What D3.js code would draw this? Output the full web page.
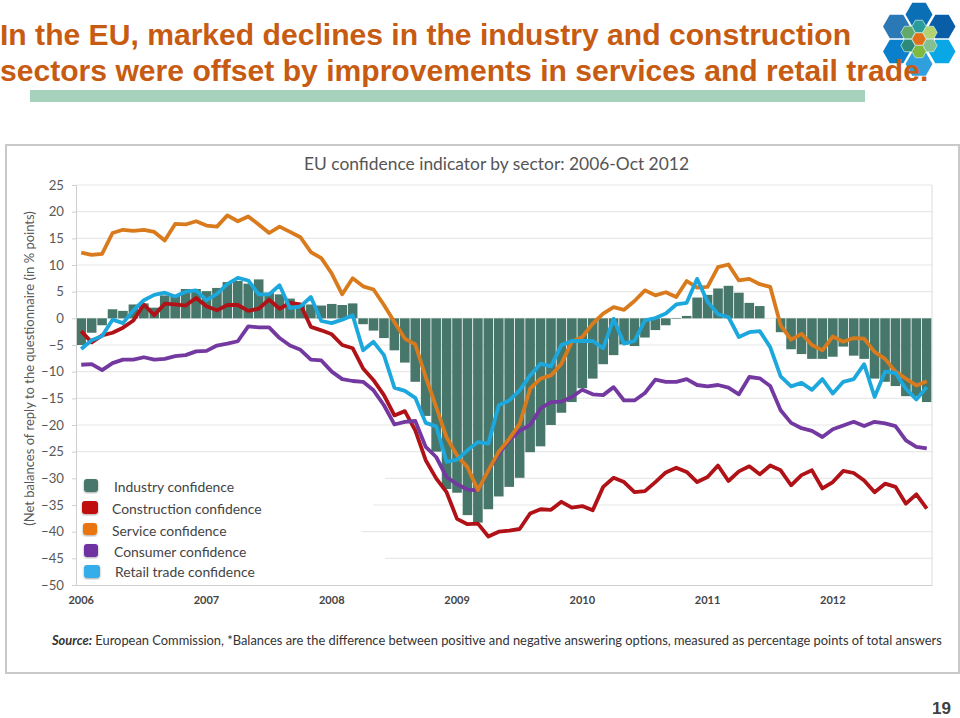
<!DOCTYPE html>
<html>
<head>
<meta charset="utf-8">
<script src="https://cdn.jsdelivr.net/npm/d3@7/dist/d3.min.js"></script>
<style>
  html, body { margin: 0; padding: 0; background: #fff; }
  svg { display: block; }
</style>
</head>
<body>
<svg id="chart" width="960" height="718"></svg>
<script>
var years = ['2006', '2007', '2008', '2009', '2010', '2011', '2012'];
var yTicks = [25, 20, 15, 10, 5, 0, -5, -10, -15, -20, -25, -30, -35, -40, -45, -50];
var seriesNames = ['Industry confidence', 'Construction confidence', 'Service confidence', 'Consumer confidence', 'Retail trade confidence'];

// monthly values, Jan 2006 - Oct 2012
var industry = [-5, -2.7, -1.3, 1.7, 1.4, 2.6, 2.8, 2, 4.3, 4.2, 5.5, 5.5,
  5.1, 5.7, 6.8, 7, 6.5, 7.3, 4.8, 4.5, 3.7, 2.6, 2.6, 2.4,
  2.7, 2.5, 2.8, -1.1, -2.3, -3.7, -6, -8.3, -11.9, -18.3, -25, -32,
  -32.7, -36.9, -38.3, -35.8, -33.4, -31.6, -29.9, -25.1, -24, -20, -17.7, -15.7,
  -13.1, -11.3, -8.6, -6.9, -4.9, -5.2, -3.6, -2.2, -1.3, -0.1, 0.45, 3.9,
  4.4, 5.6, 6.1, 4.8, 2.9, 2.3, 0, -2.6, -5.8, -6.7, -7.6, -7.6,
  -7.2, -5.3, -7, -7.6, -11.3, -11.9, -12.7, -14.6, -14.6, -15.7];

var construction = [-2.4, -4.5, -3.2, -2.7, -1.75, -0.4, 2.6, 0.6, 2.75, 2.6, 2.4, 3.8,
  2.25, 1.5, 2.5, 2.5, 1.4, 1.8, 3.5, 1.8, 2.9, 2.6, -1.6, -2.25,
  -3, -5, -5.6, -9.4, -11.6, -14.4, -18.2, -17.4, -21, -26.6, -30, -32.6,
  -37.6, -38.6, -38.5, -40.9, -40, -39.8, -39.5, -36.6, -35.8, -35.9, -34.4, -35.5,
  -35.2, -36, -31.6, -29.9, -30.7, -32.6, -32.4, -30.7, -28.9, -28, -28.8, -30.7,
  -29.75, -27.6, -30.5, -28.7, -27.75, -29.25, -27.6, -28.5, -31.3, -29.4, -28.5, -31.9,
  -30.7, -28.6, -29, -30.4, -32.6, -31, -31.6, -34.75, -33, -35.7];

var service = [12.3, 11.9, 12.1, 16, 16.6, 16.4, 16.6, 16.2, 14.6, 17.7, 17.6, 18.2,
  17.4, 17.2, 19.3, 18.2, 19.1, 17.6, 16, 17.2, 16.2, 15.2, 12.4, 11.3,
  8.4, 4.5, 7.5, 6, 5.4, 2.5, -0.7, -3.8, -4.9, -11, -16.6, -22.3,
  -25.7, -27.9, -32.2, -28.5, -25, -22.6, -19.8, -13.2, -11.3, -10.7, -8.5, -4.4,
  -3.5, -1, 0.9, 2.1, 1.6, 3.25, 5.25, 4.3, 4.9, 4, 7, 5.75,
  5.9, 9.6, 10.1, 7.1, 7.4, 6.4, 5.9, -1.3, -4, -2.9, -5, -6,
  -3.4, -4.4, -3.7, -3.8, -6.3, -7.6, -10, -11.3, -12.6, -11.8];

var consumer = [-8.7, -8.6, -9.7, -8.4, -7.75, -7.75, -7.3, -7.75, -7.6, -7.1, -6.9, -6.2,
  -6.1, -5.1, -4.75, -4.3, -1.5, -1.7, -1.7, -3.7, -5.1, -5.9, -7.75, -7.9,
  -10, -11.4, -11.75, -11.9, -13.5, -16.3, -19.9, -19.4, -19.25, -24.1, -26, -29.75,
  -31.1, -32.1, -32.25, -28.5, -25.4, -22.9, -21.1, -20, -16.9, -15.7, -15.6, -14.75,
  -13.4, -14.25, -14.4, -12.9, -15.4, -15.4, -14, -11.5, -11.9, -11.9, -11.4, -12.5,
  -12.75, -12.5, -13, -14.25, -11, -11.25, -12.7, -17.25, -19.6, -20.6, -21.1, -22.25,
  -20.8, -20.1, -19.4, -20.2, -19.4, -19.7, -20.2, -22.9, -24.1, -24.4];

var retail = [-5.75, -4.1, -3.3, -0.25, -0.9, 1.5, 3.4, 4.4, 4.8, 4.1, 5, 5.25,
  3.4, 4.6, 6.4, 7.6, 7.1, 4.5, 4.5, 6.2, 1.9, 2.25, 4, -0.5,
  -0.9, -0.25, 0.6, -6, -4.4, -6.9, -13, -13.6, -14.9, -19.6, -20.25, -26.9,
  -26.5, -24.75, -23.2, -23.5, -16.3, -15.4, -13.5, -10.7, -8.5, -9, -5, -4.25,
  -4.25, -4.25, -5.6, -0.1, -4.75, -4.25, -0.4, 0.05, 0.9, 2.6, 2.9, 7.4,
  3.1, 0.75, 0.25, -3.5, -2.6, -2.4, -5.4, -10.9, -12.75, -12.1, -13.4, -11.4,
  -14.1, -11.9, -11.4, -8.6, -14.75, -10, -10.25, -13.2, -15.2, -12.9];

var svg = d3.select('#chart');
var fontChart = 'Lato, sans-serif';
var barColor = '#47776a', lineW = 3.8;

// soft shadow for the legend boxes
var shadow = svg.append('defs').append('filter').attr('id', 'boxShadow');
shadow.append('feDropShadow').attr('dx', 0).attr('dy', 1).attr('stdDeviation', 1).attr('flood-opacity', 0.35);

// logo behind the heading, the text runs over it in the slide
var hex = d3.line();
function hexPoints(cx, cy, r) {
  return d3.range(6).map(function (k) {
    var a = k * Math.PI / 3;
    return [cx + r * Math.cos(a), cy + r * Math.sin(a)];
  });
}
var logo = svg.append('g').attr('transform', 'translate(919,39)');
var outerHex = [[0, -24.5, '#0b6fb6'], [23, -12.5, '#0a5ea8'], [23, 12.5, '#0aa7e6'], [0, 25, '#2f9fdd'], [-22.5, 12.5, '#0a80cc'], [-22.5, -12.5, '#2a79b6']];
var innerHex = [[0, -12.5, '#2b9c9c'], [11, -6.5, '#b3d272'], [11, 6.5, '#83c092'], [0, 12.5, '#7fb93f'], [-11, 6.5, '#2b8a7a'], [-11, -6.5, '#62a96a'], [0, 0, '#e2701a']];
outerHex.forEach(function (h) {
  logo.append('path').attr('d', hex(hexPoints(h[0], h[1], 13.5)) + 'Z').attr('fill', h[2]);
});
innerHex.forEach(function (h) {
  logo.append('path').attr('d', hex(hexPoints(h[0], h[1], 7.2)) + 'Z').attr('fill', h[2]).attr('stroke', '#bfe6dc').attr('stroke-width', 0.8);
});

// heading
svg.selectAll('.head').data(['In the EU, marked declines in the industry and construction', 'sectors were offset by improvements in services and retail trade.'])
  .enter().append('text')
  .attr('class', 'head')
  .attr('x', 0)
  .attr('y', function (d, i) { return 45 + i * 36; })
  .attr('font-family', '"Liberation Sans", Arial, sans-serif')
  .attr('font-weight', 'bold')
  .attr('font-size', 30.1)
  .attr('fill', '#c75b12')
  .text(function (d) { return d; });

svg.append('rect').attr('x', 30).attr('y', 90).attr('width', 835).attr('height', 12).attr('fill', '#a6d1ba');

// frame of the pasted chart
svg.append('rect').attr('x', 6).attr('y', 145).attr('width', 953).attr('height', 528)
  .attr('fill', '#fff').attr('stroke', '#c9c9c9').attr('stroke-width', 2);

var plot = { left: 76, right: 932, top: 185, bottom: 585 };

var x = d3.scaleBand().domain(d3.range(industry.length)).range([plot.left, plot.right]).paddingInner(0.08).paddingOuter(0.04);
var y = d3.scaleLinear().domain([-50, 25]).range([plot.bottom, plot.top]);

// gridlines, the lower left ones were wiped out for the legend
var gridStart = { '-30': 385, '-35': 373, '-40': 362, '-45': 385 };
svg.append('g').selectAll('line').data(yTicks.filter(function (d) { return d !== -50; }))
  .enter().append('line')
  .attr('x1', function (d) { return gridStart[d] || plot.left; })
  .attr('x2', plot.right)
  .attr('y1', function (d) { return y(d); })
  .attr('y2', function (d) { return y(d); })
  .attr('stroke', '#e8e8e8')
  .attr('stroke-width', 1.2);

svg.append('g').selectAll('rect').data(industry)
  .enter().append('rect')
  .attr('x', function (d, i) { return x(i); })
  .attr('width', x.bandwidth())
  .attr('y', function (d) { return y(Math.max(d, 0)); })
  .attr('height', function (d) { return Math.abs(y(d) - y(0)); })
  .attr('fill', barColor);

// y axis
var yAxis = svg.append('g')
  .attr('transform', 'translate(' + plot.left + ',0)')
  .call(d3.axisLeft(y).tickValues(yTicks).tickSize(4).tickPadding(8));
yAxis.selectAll('text').attr('font-family', fontChart).attr('font-size', 13.2).attr('fill', '#595959');
yAxis.selectAll('line, path').attr('stroke', '#cfcfcf');

// x axis, one label per year at January
var xAxis = svg.append('g')
  .attr('transform', 'translate(0,' + plot.bottom + ')')
  .call(d3.axisBottom(x)
    .tickValues(d3.range(0, industry.length, 12))
    .tickFormat(function (d) { return years[d / 12]; })
    .tickSize(0).tickPadding(11));
xAxis.selectAll('text').attr('font-family', fontChart).attr('font-weight', 'bold').attr('font-size', 11).attr('fill', '#444');
xAxis.select('path').attr('stroke', '#cfcfcf');

svg.append('line').attr('x1', plot.right).attr('x2', plot.right).attr('y1', plot.top).attr('y2', plot.bottom).attr('stroke', '#dcdcdc');

// lines, retail on top
var line = d3.line()
  .x(function (d, i) { return x(i) + x.bandwidth() / 2; })
  .y(function (d) { return y(d); });

var lineSeries = [
  { values: construction, color: '#b01217' },
  { values: consumer, color: '#7339a0' },
  { values: service, color: '#d97b1c' },
  { values: retail, color: '#1ca8dc' }
];
svg.append('g').selectAll('path').data(lineSeries)
  .enter().append('path')
  .attr('d', function (d) { return line(d.values); })
  .attr('fill', 'none')
  .attr('stroke', function (d) { return d.color; })
  .attr('stroke-width', lineW)
  .attr('stroke-linejoin', 'round');

// titles
svg.append('text').attr('x', 496.5).attr('y', 170).attr('text-anchor', 'middle')
  .attr('font-family', fontChart).attr('font-size', 17.4).attr('fill', '#555')
  .text('EU confidence indicator by sector: 2006-Oct 2012');

svg.append('text').attr('transform', 'translate(34,368.5) rotate(-90)').attr('text-anchor', 'middle')
  .attr('font-family', fontChart).attr('font-size', 13).attr('fill', '#595959')
  .text('(Net balances of reply  to the questionnaire (in % points)');

// legend, the boxes were placed by hand in the original
var legendPos = [
  { sx: 84, sy: 479, sw: 14, sh: 13, tx: 114, ty: 492, c: barColor },
  { sx: 82, sy: 501, sw: 16, sh: 13, tx: 112, ty: 514, c: '#c00d0f' },
  { sx: 83, sy: 523, sw: 14, sh: 12, tx: 112, ty: 536, c: '#e8750f' },
  { sx: 84, sy: 544, sw: 14, sh: 13, tx: 114, ty: 557, c: '#7030a0' },
  { sx: 84, sy: 565, sw: 16, sh: 13, tx: 115, ty: 577, c: '#36ade8' }
];
var legend = svg.append('g').selectAll('g').data(seriesNames).enter().append('g');
legend.append('rect')
  .attr('x', function (d, i) { return legendPos[i].sx; })
  .attr('y', function (d, i) { return legendPos[i].sy; })
  .attr('width', function (d, i) { return legendPos[i].sw; })
  .attr('height', function (d, i) { return legendPos[i].sh; })
  .attr('rx', 3)
  .attr('filter', 'url(#boxShadow)')
  .attr('fill', function (d, i) { return legendPos[i].c; });
legend.append('text')
  .attr('x', function (d, i) { return legendPos[i].tx; })
  .attr('y', function (d, i) { return legendPos[i].ty; })
  .attr('font-family', fontChart).attr('font-size', 13.9).attr('fill', '#444')
  .text(function (d) { return d; });

// source note
var source = svg.append('text').attr('x', 52).attr('y', 645)
  .attr('font-family', fontChart).attr('font-size', 12.88).attr('fill', '#333');
source.append('tspan').attr('font-weight', 'bold').attr('font-style', 'italic').text('Source:');
source.append('tspan').text(' European Commission, *Balances are the difference between positive and negative answering options, measured as percentage points of total answers');

svg.append('text').attr('x', 951).attr('y', 714).attr('text-anchor', 'end')
  .attr('font-family', '"Liberation Sans", Arial, sans-serif').attr('font-weight', 'bold').attr('font-size', 17).attr('fill', '#404040')
  .text('19');
</script>
</body>
</html>
